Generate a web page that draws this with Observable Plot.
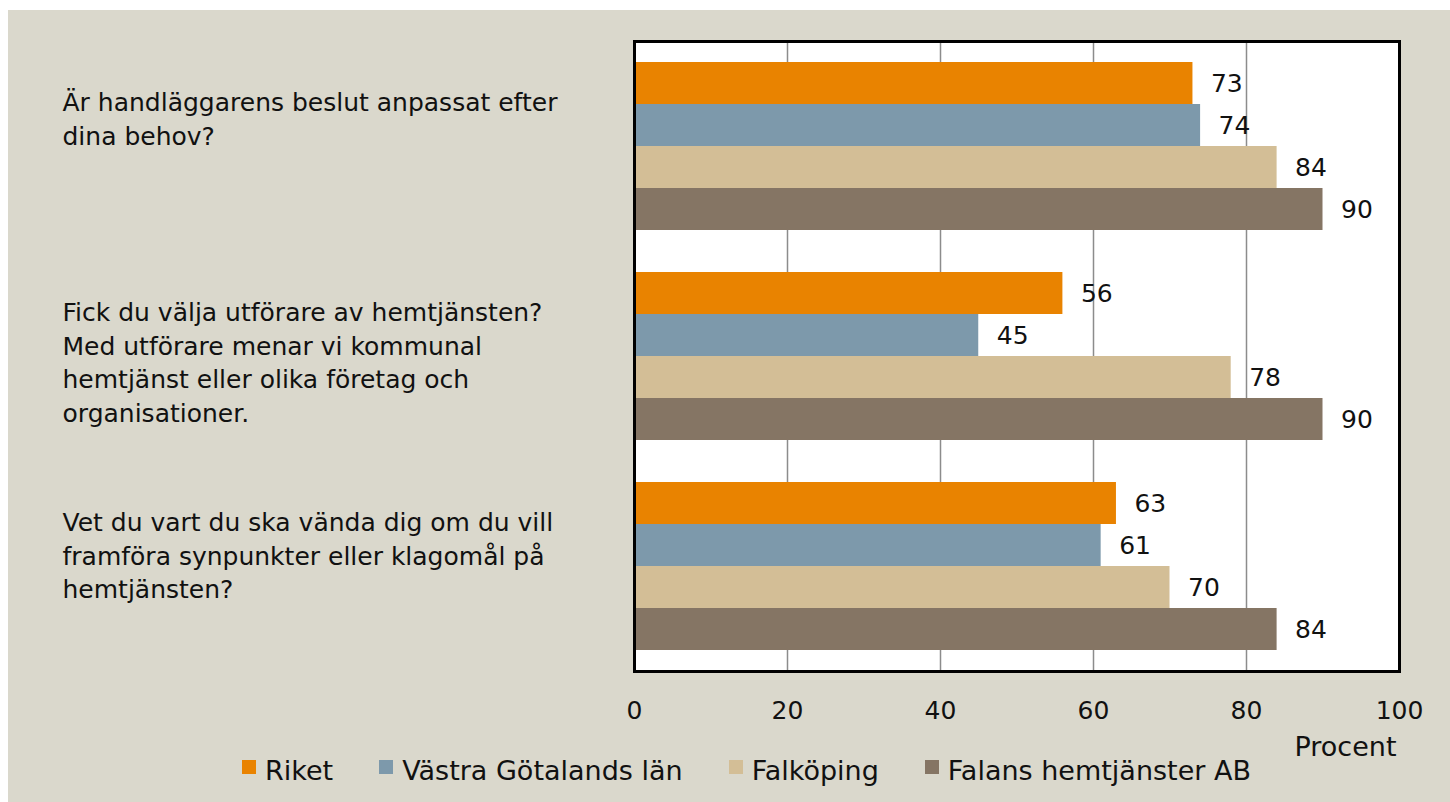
<!DOCTYPE html>
<html><head><meta charset="utf-8">
<script src="https://cdn.jsdelivr.net/npm/d3@7"></script>
<script src="https://cdn.jsdelivr.net/npm/@observablehq/plot@0.6"></script>
<style>
body{margin:0;background:#fff;}
#panel{position:absolute;left:8px;top:10px;width:1442px;height:792px;background:#dad8cc;font-family:"DejaVu Sans",sans-serif;color:#111;overflow:hidden;}
#panel svg{display:block;}
#legend{display:flex;gap:46px;padding-left:234px;line-height:26px;font-size:27px;color:#111;}
.item{display:flex;align-items:flex-start;white-space:nowrap;}
.sw{width:14px;height:14px;margin-top:2px;margin-right:9px;flex:none;}
</style></head><body><div id="panel"></div>
<script>
const questions = [
  "Är handläggarens beslut anpassat efter\ndina behov?",
  "Fick du välja utförare av hemtjänsten?\nMed utförare menar vi kommunal\nhemtjänst eller olika företag och\norganisationer.",
  "Vet du vart du ska vända dig om du vill\nframföra synpunkter eller klagomål på\nhemtjänsten?"
];
const series = ["Riket", "Västra Götalands län", "Falköping", "Falans hemtjänster AB"];
const colors = ["#e98300", "#7d99ab", "#d3be96", "#857564"];
const riket = [73, 56, 63];
const vastraGotaland = [74, 45, 61];
const falkoping = [84, 78, 70];
const falans = [90, 90, 84];
const xTicks = [0, 20, 40, 60, 80, 100];
const gridTicks = [20, 40, 60, 80];
const axisLabel = "Procent";

const seriesValues = [riket, vastraGotaland, falkoping, falans];
const rows = [];
seriesValues.forEach((vals, si) => vals.forEach((v, qi) => rows.push({question: questions[qi], series: series[si], value: v})));

const BAR = 42;
const marks = [
  Plot.frame({fill: "white"}),
  Plot.gridX(gridTicks, {stroke: "#8c8c8c", strokeOpacity: 1, strokeWidth: 1.5}),
];
series.forEach((s, i) => {
  const d = rows.filter(r => r.series === s);
  marks.push(Plot.barX(d, {x: "value", y: "question", fill: "series", insetTop: BAR * i, insetBottom: BAR * (series.length - 1 - i)}));
  marks.push(Plot.text(d, {x: "value", y: "question", text: r => String(r.value), textAnchor: "start", dx: 18, dy: BAR * i - 63, fontSize: 25, fill: "#111"}));
});
marks.push(
  Plot.text(questions, {y: q => q, text: q => q, frameAnchor: "left", textAnchor: "start", lineAnchor: "top", dx: -572, dy: -59, fontSize: 25, lineHeight: 33.5 / 25, fill: "#111"}),
  Plot.axisX(xTicks, {tickSize: 0, tickPadding: 30, fontSize: 25, fill: "#111", label: null}),
  Plot.text([axisLabel], {frameAnchor: "bottom-right", textAnchor: "end", lineAnchor: "bottom", dx: -3, dy: 84, fontSize: 27, fill: "#111"}),
  Plot.frame({stroke: "black", strokeWidth: 3})
);

const chart = Plot.plot({
  width: 1442,
  height: 748,
  marginLeft: 626,
  marginRight: 51,
  marginTop: 31,
  marginBottom: 87,
  x: {domain: [0, 100]},
  y: {domain: questions, paddingInner: 0.2, paddingOuter: 0.1, axis: null},
  color: {domain: series, range: colors},
  style: {background: "transparent", fontFamily: "DejaVu Sans, sans-serif", color: "#111", overflow: "visible"},
  marks
});
const panel = document.getElementById("panel");
panel.appendChild(chart);

const legend = document.createElement("div");
legend.id = "legend";
series.forEach((s, i) => {
  const item = document.createElement("div");
  item.className = "item";
  const sw = document.createElement("span");
  sw.className = "sw";
  sw.style.background = colors[i];
  const t = document.createElement("span");
  t.textContent = s;
  item.appendChild(sw);
  item.appendChild(t);
  legend.appendChild(item);
});
panel.appendChild(legend);
</script></body></html>
